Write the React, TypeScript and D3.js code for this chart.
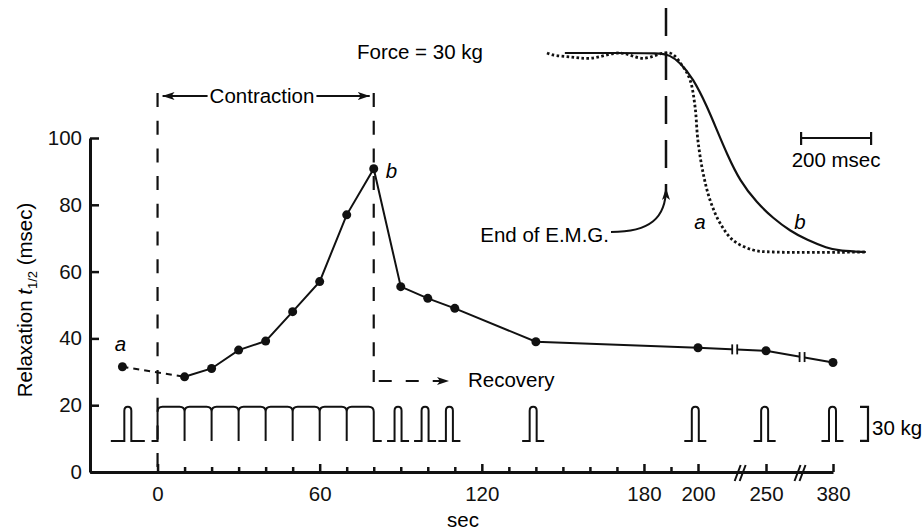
import React, { useEffect, useRef } from "react";
import * as d3 from "d3";

// relaxation half-time (msec) against time (sec)
const seconds = [-13, 10, 20, 30, 40, 50, 60, 70, 80, 90, 100, 110, 140, 200, 250, 380];
const relaxMs = [31.5, 28.5, 31, 36.5, 39.2, 48, 57, 77, 90.8, 55.5, 52, 49, 39, 37.2, 36.3, 32.8];

const yTicks = [0, 20, 40, 60, 80, 100];
const xTicks = [0, 10, 20, 30, 40, 50, 60, 70, 80, 90, 100, 110, 120, 130, 140, 150, 160, 170, 180, 190, 200, 250, 380];
const xLabels = [0, 60, 120, 180, 200, 250, 380];
const axisBreaks = [231, 316];
const lineBreaks = [227, 320];

// force record drawn under the curve
const forceLevels = [9.3, 19.5];
const twitchTimes = [-11, 89, 99, 108, 139, 199, 249, 379];
const tetanusBeats = [0, 10, 20, 30, 40, 50, 60, 70, 80];

// inset: force decay, a = before contraction, b = end of contraction
const decayA_ms = [0, 17, 66, 123, 209, 274, 351, 389, 409, 423, 431, 446, 466, 494, 531, 589, 646, 911];
const decayA_kg = [30, 29.7, 29.4, 29.2, 30, 29.2, 30, 27.9, 25.9, 21.9, 16.9, 11.9, 7.8, 4.4, 1.8, 0.3, 0, 0];
const decayB_ms = [51, 200, 323, 350, 380, 417, 457, 486, 514, 551, 600, 646, 694, 743, 800, 837, 911];
const decayB_kg = [30, 30, 30, 29.7, 28.6, 26.2, 22, 18.3, 14.8, 10.7, 7.4, 5.1, 3.2, 1.8, 0.6, 0.15, 0];
const emgEndMs = 340;
const scaleBarMs = [726, 926];

const font = "'Liberation Sans', Arial, Helvetica, sans-serif";
const ink = "#111";

const App = () => {
  const svgRef = useRef<SVGSVGElement>(null);

  useEffect(() => {
    const svg = d3.select(svgRef.current);
    svg.selectAll("*").remove();
    svg.attr("font-family", font).attr("font-size", 20.5);

    const x = d3.scaleLinear().domain([-25, 200, 250, 380]).range([90, 698, 766, 833]);
    const y = d3.scaleLinear().domain([0, 100]).range([472, 138]);

    const defs = svg.append("defs");
    defs
      .append("marker")
      .attr("id", "arrow")
      .attr("viewBox", "0 0 12 8")
      .attr("refX", 12)
      .attr("refY", 4)
      .attr("markerWidth", 12)
      .attr("markerHeight", 8)
      .attr("markerUnits", "userSpaceOnUse")
      .attr("orient", "auto-start-reverse")
      .append("path")
      .attr("d", "M0,0 L12,4 L0,8 L3,4 Z")
      .attr("fill", ink);

    // axes
    const yAxis = svg
      .append("g")
      .attr("transform", `translate(${x(-25)},0)`)
      .call(d3.axisLeft(y).tickValues(yTicks).tickSize(-9).tickSizeOuter(0).tickPadding(8));
    const xAxis = svg
      .append("g")
      .attr("transform", `translate(0,${y(0)})`)
      .call(
        d3
          .axisBottom(x)
          .tickValues(xTicks)
          .tickSize(-5)
          .tickSizeOuter(0)
          .tickPadding(14)
          .tickFormat((d: any) => (xLabels.includes(+d) ? String(d) : ""))
      );
    xAxis
      .selectAll(".tick")
      .filter((d: any) => xLabels.includes(d))
      .select("line")
      .attr("y2", -8);
    [yAxis, xAxis].forEach((g) => {
      g.attr("font-family", null).attr("font-size", null);
      g.select(".domain").attr("stroke", ink).attr("stroke-width", 3);
      g.selectAll(".tick line").attr("stroke", ink).attr("stroke-width", 2.5);
      g.selectAll("text").attr("fill", ink).attr("font-size", 20.5);
    });

    axisBreaks.forEach((t) => {
      const cx = x(t);
      [-2.5, 2.5].forEach((o) =>
        svg
          .append("line")
          .attr("x1", cx + o - 3)
          .attr("y1", y(0) + 9)
          .attr("x2", cx + o + 3)
          .attr("y2", y(0) - 7)
          .attr("stroke", ink)
          .attr("stroke-width", 2)
      );
    });

    svg
      .append("text")
      .attr("x", 463)
      .attr("y", 527)
      .attr("text-anchor", "middle")
      .text("sec");

    const yTitle = svg
      .append("text")
      .attr("transform", "translate(32,300) rotate(-90)")
      .attr("text-anchor", "middle");
    yTitle.append("tspan").text("Relaxation ");
    yTitle.append("tspan").attr("font-style", "italic").text("t");
    yTitle.append("tspan").attr("font-size", 13).attr("dy", 5).text("1/2");
    yTitle.append("tspan").attr("dy", -5).text(" (msec)");

    // contraction / recovery markers
    const top = 93;
    svg
      .append("line")
      .attr("x1", x(0))
      .attr("x2", x(0))
      .attr("y1", top)
      .attr("y2", y(0))
      .attr("stroke", ink)
      .attr("stroke-width", 2.2)
      .attr("stroke-dasharray", "14,13.7");
    svg
      .append("line")
      .attr("x1", x(80))
      .attr("x2", x(80))
      .attr("y1", top)
      .attr("y2", 382)
      .attr("stroke", ink)
      .attr("stroke-width", 2.2)
      .attr("stroke-dasharray", "14,13.7");

    const cText = svg
      .append("text")
      .attr("x", 262)
      .attr("y", 103)
      .attr("text-anchor", "middle")
      .text("Contraction");
    const cLen = (cText.node() as SVGTextElement).getComputedTextLength();
    svg
      .append("line")
      .attr("x1", x(0) + 5)
      .attr("x2", 262 - cLen / 2 - 2)
      .attr("y1", 96)
      .attr("y2", 96)
      .attr("stroke", ink)
      .attr("stroke-width", 2)
      .attr("marker-start", "url(#arrow)");
    svg
      .append("line")
      .attr("x1", 262 + cLen / 2 + 2)
      .attr("x2", x(80) - 4)
      .attr("y1", 96)
      .attr("y2", 96)
      .attr("stroke", ink)
      .attr("stroke-width", 2)
      .attr("marker-end", "url(#arrow)");

    svg
      .append("line")
      .attr("x1", x(80) + 5)
      .attr("x2", 449)
      .attr("y1", 381)
      .attr("y2", 381)
      .attr("stroke", ink)
      .attr("stroke-width", 2)
      .attr("stroke-dasharray", "13,14")
      .attr("marker-end", "url(#arrow)");
    svg.append("text").attr("x", 468).attr("y", 387).text("Recovery");

    // force record
    const yb = y(forceLevels[0]);
    const yt = y(forceLevels[1]);
    const rec = svg.append("g").attr("fill", "none").attr("stroke", ink).attr("stroke-width", 2);
    twitchTimes.forEach((t, i) => {
      const cx = x(t);
      const hw = i === 0 ? 17 : 11;
      const p = d3.path();
      p.moveTo(cx - hw, yb);
      p.lineTo(cx - 3.5, yb);
      p.lineTo(cx - 3.5, yt + 4);
      p.quadraticCurveTo(cx - 3.5, yt, cx, yt);
      p.quadraticCurveTo(cx + 3.5, yt, cx + 3.5, yt + 4);
      p.lineTo(cx + 3.5, yb);
      p.lineTo(cx + hw, yb);
      rec.append("path").attr("d", p.toString());
    });
    const tp = d3.path();
    tp.moveTo(x(tetanusBeats[0]) - 6, yb);
    tp.lineTo(x(tetanusBeats[0]), yb);
    for (let i = 0; i < tetanusBeats.length - 1; i++) {
      const s = x(tetanusBeats[i]);
      const e = x(tetanusBeats[i + 1]);
      tp.lineTo(s, yt + 5);
      tp.quadraticCurveTo(s, yt, s + 5, yt);
      tp.lineTo(e - 5, yt);
      tp.quadraticCurveTo(e, yt, e, yt + 5);
      tp.lineTo(e, yb);
    }
    tp.lineTo(x(tetanusBeats[tetanusBeats.length - 1]) + 8, yb);
    rec.append("path").attr("d", tp.toString());

    rec
      .append("path")
      .attr("d", `M860,${yt}H868V${yb}H860`)
      .attr("stroke-width", 2.2);
    svg.append("text").attr("x", 872).attr("y", 435).text("30 kg");

    // relaxation curve
    const pts: [number, number][] = seconds.map((s, i) => [x(s), y(relaxMs[i])]);
    const line = d3.line();
    svg
      .append("path")
      .attr("d", line(pts.slice(0, 2)))
      .attr("fill", "none")
      .attr("stroke", ink)
      .attr("stroke-width", 2)
      .attr("stroke-dasharray", "6,5");
    svg
      .append("path")
      .attr("d", line(pts.slice(1)))
      .attr("fill", "none")
      .attr("stroke", ink)
      .attr("stroke-width", 2);

    const yAt = d3.scaleLinear().domain(seconds.slice(1)).range(relaxMs.slice(1));
    lineBreaks.forEach((t) => {
      const cx = x(t);
      const cy = y(yAt(t));
      svg.append("rect").attr("x", cx - 2).attr("y", cy - 5).attr("width", 4).attr("height", 10).attr("fill", "#fff");
      [-2.5, 2.5].forEach((o) =>
        svg
          .append("line")
          .attr("x1", cx + o)
          .attr("x2", cx + o)
          .attr("y1", cy - 5)
          .attr("y2", cy + 5)
          .attr("stroke", ink)
          .attr("stroke-width", 1.8)
      );
    });

    svg
      .append("g")
      .selectAll("circle")
      .data(pts)
      .join("circle")
      .attr("cx", (d) => d[0])
      .attr("cy", (d) => d[1])
      .attr("r", 4.5)
      .attr("fill", ink);

    svg
      .append("text")
      .attr("x", pts[0][0] - 2)
      .attr("y", pts[0][1] - 16)
      .attr("font-style", "italic")
      .attr("text-anchor", "middle")
      .text("a");
    svg
      .append("text")
      .attr("x", pts[8][0] + 12)
      .attr("y", pts[8][1] + 9)
      .attr("font-style", "italic")
      .text("b");

    // inset
    const ix = d3.scaleLinear().domain([0, 200]).range([547, 617]);
    const iy = d3.scaleLinear().domain([0, 30]).range([252, 53]);
    const lineB = d3
      .line<number>()
      .x((d) => ix(d))
      .y((_, i) => iy(decayB_kg[i]))
      .curve(d3.curveBasis);
    const lineA = d3
      .line<number>()
      .x((d) => ix(d))
      .y((_, i) => iy(decayA_kg[i]))
      .curve(d3.curveCatmullRom.alpha(0.5));

    svg.append("text").attr("x", 357).attr("y", 59).text("Force = 30 kg");

    svg
      .append("path")
      .attr("d", lineB(decayB_ms))
      .attr("fill", "none")
      .attr("stroke", ink)
      .attr("stroke-width", 2.2);
    svg
      .append("path")
      .attr("d", lineA(decayA_ms))
      .attr("fill", "none")
      .attr("stroke", ink)
      .attr("stroke-width", 2.8)
      .attr("stroke-dasharray", "2.6,2.4");

    svg
      .append("line")
      .attr("x1", ix(emgEndMs))
      .attr("x2", ix(emgEndMs))
      .attr("y1", 8)
      .attr("y2", 197)
      .attr("stroke", ink)
      .attr("stroke-width", 2.5)
      .attr("stroke-dasharray", "28,16");
    svg
      .append("path")
      .attr(
        "d",
        `M611,232 C650,232 ${ix(emgEndMs)},218 ${ix(emgEndMs)},188`
      )
      .attr("fill", "none")
      .attr("stroke", ink)
      .attr("stroke-width", 2)
      .attr("marker-end", "url(#arrow)");
    svg
      .append("text")
      .attr("x", 609)
      .attr("y", 242)
      .attr("text-anchor", "end")
      .text("End of E.M.G.");

    svg.append("text").attr("x", 700).attr("y", 229).attr("font-style", "italic").attr("text-anchor", "middle").text("a");
    svg.append("text").attr("x", 800).attr("y", 229).attr("font-style", "italic").attr("text-anchor", "middle").text("b");

    const sb0 = ix(scaleBarMs[0]);
    const sb1 = ix(scaleBarMs[1]);
    svg
      .append("path")
      .attr("d", `M${sb0},132V145M${sb0},138H${sb1}M${sb1},132V145`)
      .attr("fill", "none")
      .attr("stroke", ink)
      .attr("stroke-width", 2.2);
    svg
      .append("text")
      .attr("x", (sb0 + sb1) / 2)
      .attr("y", 167)
      .attr("text-anchor", "middle")
      .text("200 msec");
  }, []);

  return (
    <svg
      ref={svgRef}
      width={923}
      height={532}
      style={{ position: "absolute", left: 0, top: 0, background: "#fff" }}
    />
  );
};

export default App;
